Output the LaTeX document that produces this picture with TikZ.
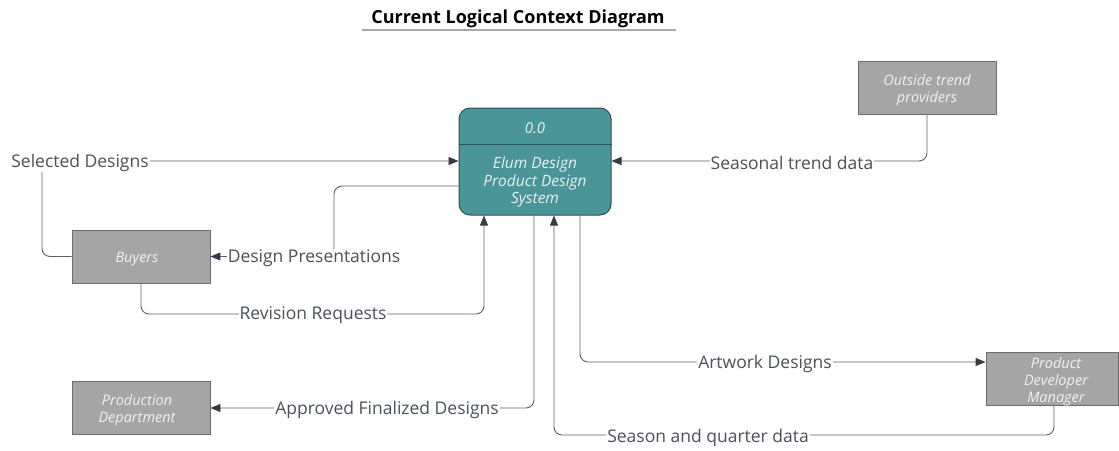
\documentclass[tikz,border=0pt]{standalone}
\usepackage{fontspec}
\setmainfont{Open Sans}
\usetikzlibrary{arrows.meta}
\definecolor{procfill}{HTML}{4A9598}
\definecolor{procline}{HTML}{2E4F52}
\definecolor{proctext}{HTML}{E6F1F1}
\definecolor{extfill}{HTML}{A5A5A5}
\definecolor{extline}{HTML}{6C6C6C}
\definecolor{exttext}{HTML}{F2F2F2}
\definecolor{flowline}{HTML}{5A5F69}
\definecolor{flowtip}{HTML}{343A46}
\definecolor{flowtext}{HTML}{4B505A}
\definecolor{rulegray}{HTML}{A8A8AE}
\tikzset{
  extbox/.style={draw=extline, line width=0.9pt, fill=extfill,
    minimum width=138pt, minimum height=53pt, inner sep=0pt},
  exttextstyle/.style={text=exttext, align=center, inner sep=0pt,
    font=\fontsize{14.5}{17}\selectfont\itshape},
  flow/.style={draw=flowline, line width=0.9pt, rounded corners=8pt,
    -{Triangle[length=10pt,width=8pt,color=flowtip]}},
  flowlabel/.style={fill=white, text=flowtext, inner sep=1pt, yshift=-1.5pt,
    font=\fontsize{17.5}{20}\selectfont},
}
\begin{document}
\begin{tikzpicture}[x=1pt,y=-1pt]
\useasboundingbox (0,0) rectangle (1119,450);

% title
\node[font=\fontsize{18}{21}\selectfont\bfseries] (title) at (518,19) {Current Logical Context Diagram};
\draw[rulegray, line width=1.4pt] (362,30) -- (676,30);

% central process
\node[draw=procline, line width=1pt, fill=procfill, rounded corners=11pt,
      minimum width=152pt, minimum height=107pt, inner sep=0pt] (main) at (535,161.5) {};
\draw[procline, line width=1pt] (main.west |- 0,144) -- (main.east |- 0,144);
\node[text=proctext, font=\fontsize{15}{17}\selectfont\itshape] (mainid) at (535,128) {0.0};
\node[text=proctext, align=center, font=\fontsize{15.5}{17.5}\selectfont\itshape] (maintext) at (535,182)
  {Elum Design\\Product Design\\System};

% external entities
\node[extbox] (trend) at (927,88) {};
\node[exttextstyle] (trendtxt) at (927,90.5) {Outside trend\\providers};
\node[extbox] (buyers) at (141,256.5) {};
\node[exttextstyle] (buyerstxt) at (137,259) {Buyers};
\node[extbox] (prod) at (141,408) {};
\node[exttextstyle] (prodtxt) at (137,410.5) {Production\\Department};
\node[extbox, minimum width=132pt] (pdm) at (1052,378.5) {};
\node[exttextstyle] (pdmtxt) at (1056,381.5) {Product\\Developer\\Manager};

% data flows
\draw[flow] (buyers.west) -| (42,161) -- (main.west |- 0,161);
\node[flowlabel] (l1) at (80,161) {Selected Designs};

\draw[flow] (main.west |- 0,186) -| (334,256.5) -- (buyers.east);
\node[flowlabel] (l2) at (314,257) {Design Presentations};

\draw[flow] (buyers.south) |- (484,314) -- (main.south -| 484,0);
\node[flowlabel] (l3) at (313,314) {Revision Requests};

\draw[flow] (trend.south) |- (main.east |- 0,161);
\node[flowlabel] (l4) at (792,161) {Seasonal trend data};

\draw[flow] (main.south -| 580,0) |- (pdm.west |- 0,362);
\node[flowlabel] (l5) at (765,362) {Artwork Designs};

\draw[flow] (main.south -| 534,0) |- (prod.east);
\node[flowlabel] (l6) at (387,408) {Approved Finalized Designs};

\draw[flow] (pdm.south -| 1054,0) -- (1054,435) -| (main.south -| 554,0);
\node[flowlabel] (l7) at (708,436) {Season and quarter data};
\end{tikzpicture}
\end{document}
